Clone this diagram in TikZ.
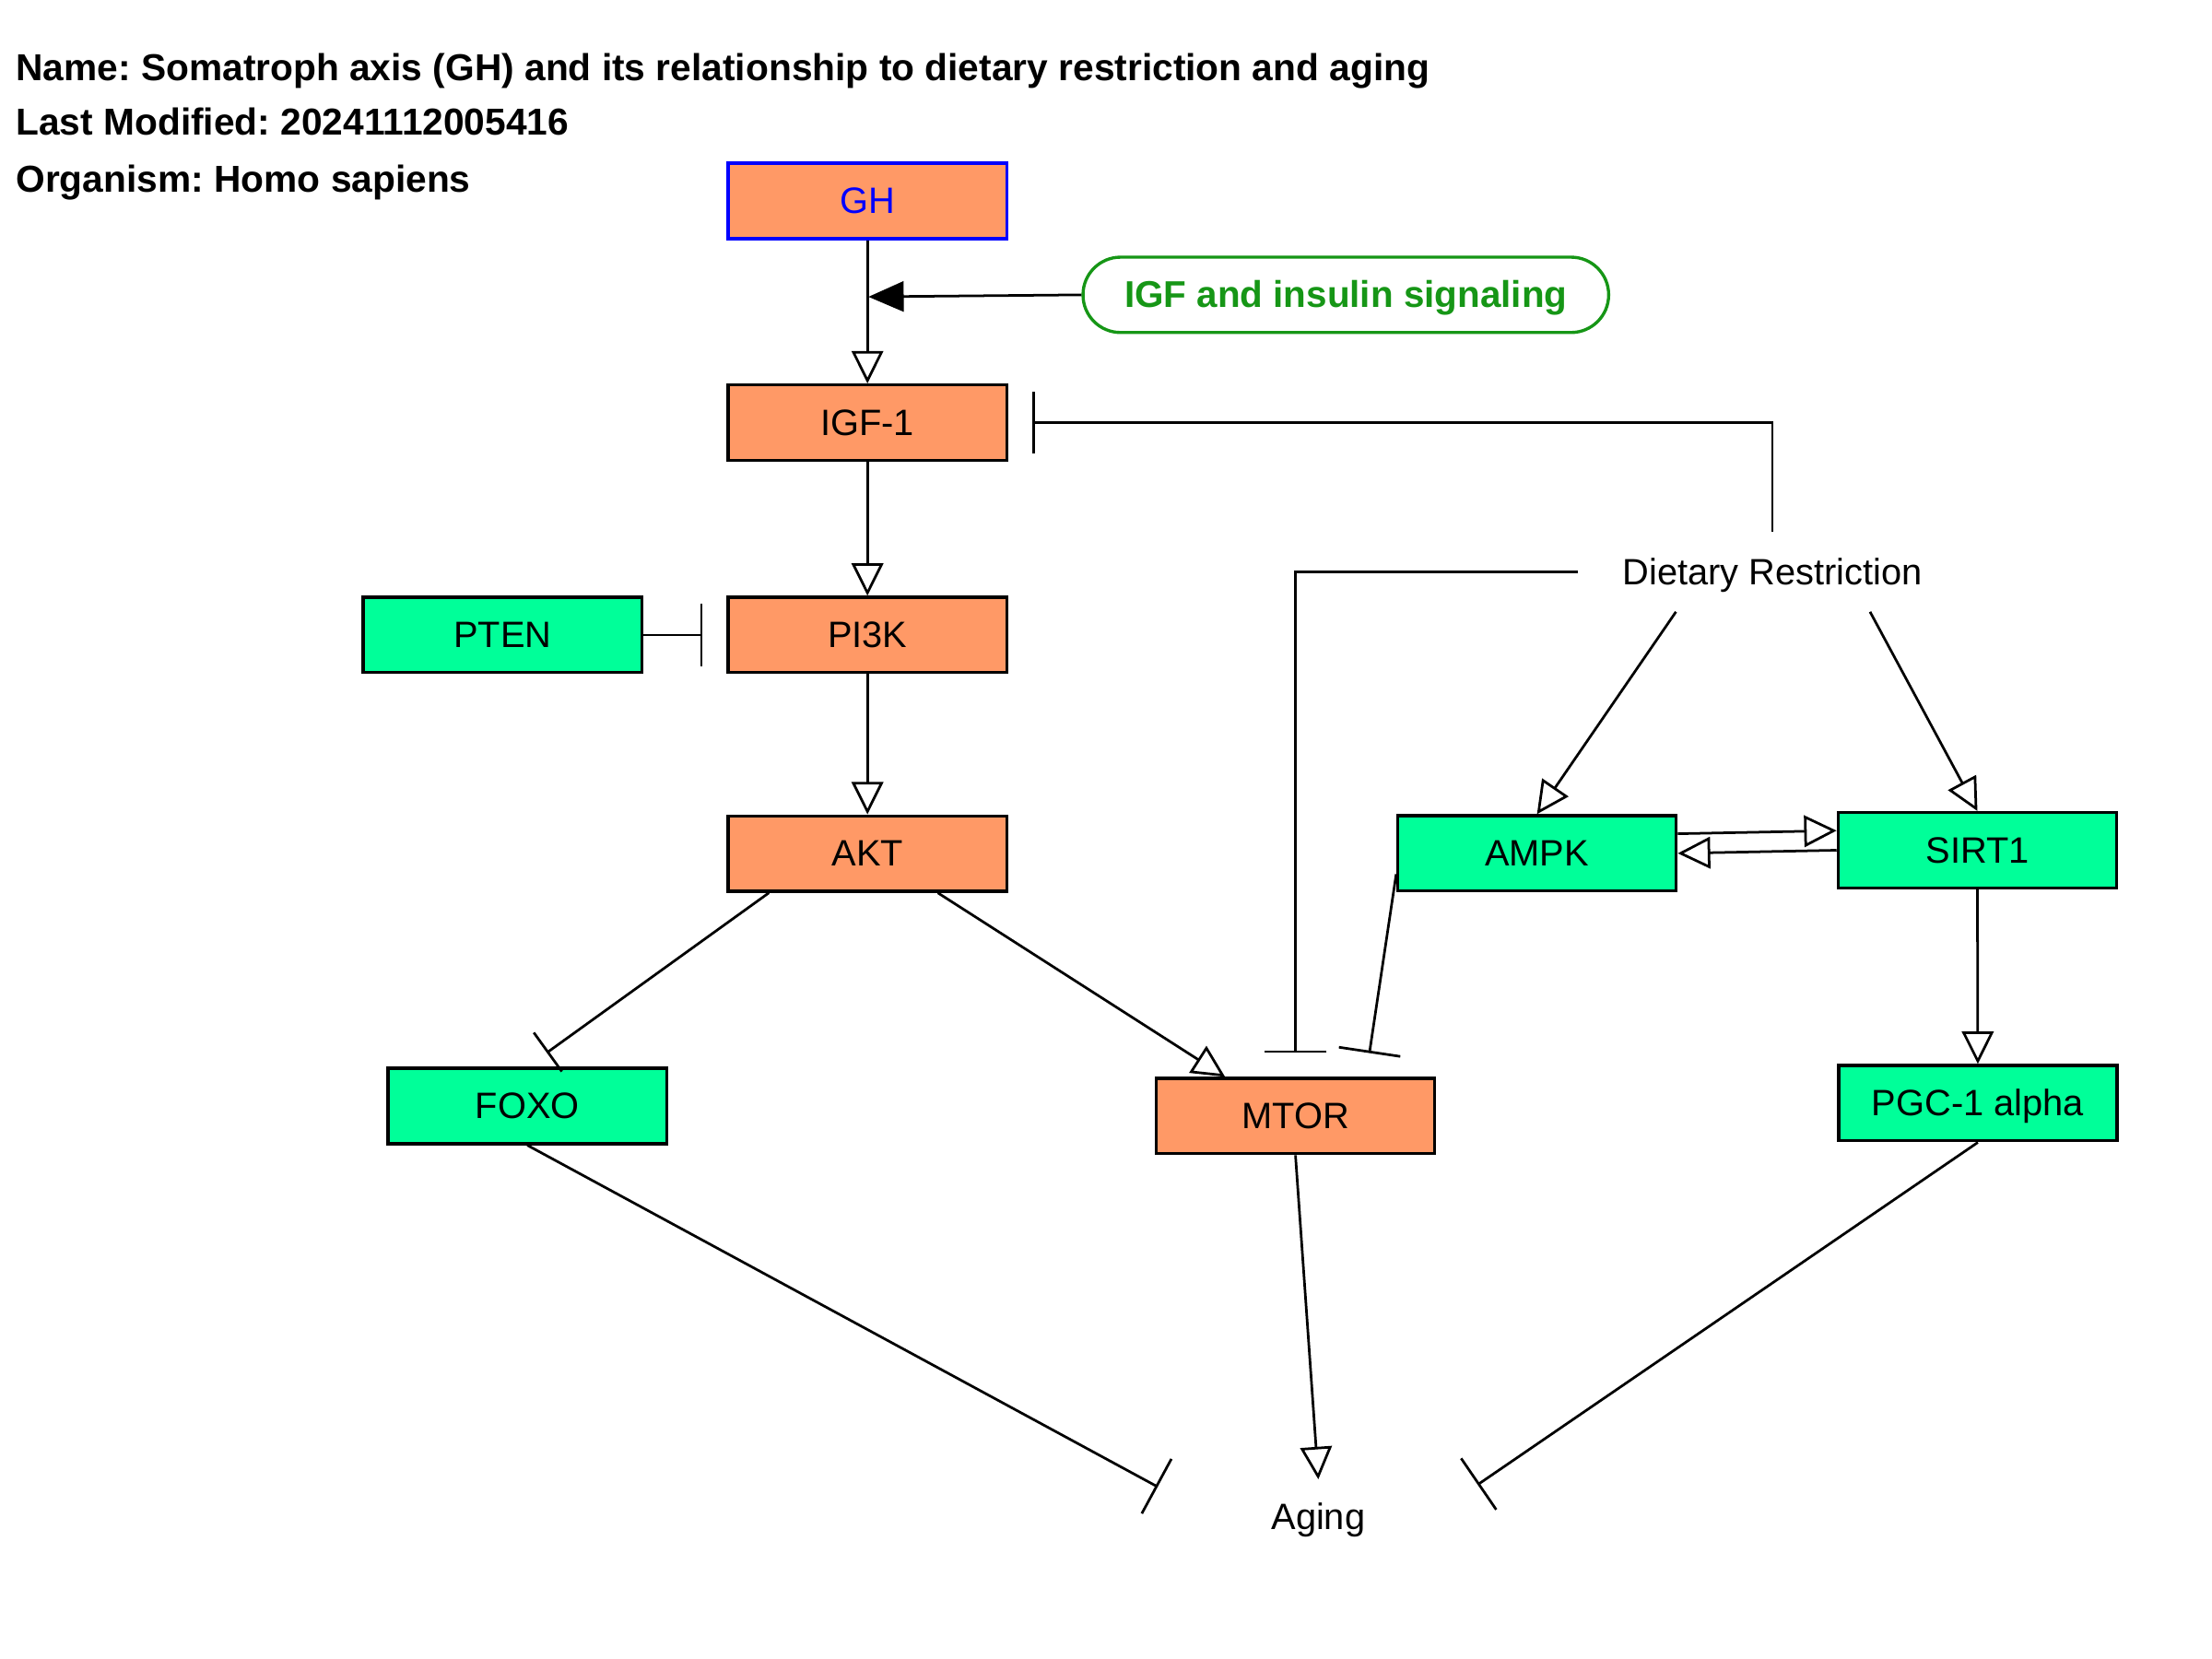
\documentclass[tikz,border=0pt]{standalone}
\usepackage{fontspec}
\setmainfont{Liberation Sans}
\usetikzlibrary{arrows.meta,calc}
\definecolor{orangefill}{RGB}{255,153,102}
\definecolor{greenfill}{RGB}{0,255,153}
\definecolor{pathgreen}{RGB}{22,150,22}
\definecolor{ghblue}{RGB}{0,0,255}
\frenchspacing
\begin{document}
\begin{tikzpicture}[x=0.5pt,y=-0.5pt,
  lbl/.style={font=\fontsize{13pt}{15pt}\selectfont},
  box/.style={lbl, draw=black, line width=1.1pt, minimum width=98.7pt, minimum height=26.7pt,
    inner sep=0pt, text height=8.95pt, text depth=0pt},
  orangebox/.style={box, fill=orangefill},
  greenbox/.style={box, fill=greenfill},
  plainlbl/.style={lbl, inner sep=0pt, text height=8.95pt, text depth=0pt},
  titlelbl/.style={font=\fontsize{13.3pt}{15pt}\selectfont\bfseries, anchor=base west, inner sep=0pt},
  act/.style={draw=black, line width=0.9pt, -{Triangle[open, length=11.5pt, width=11.2pt]}},
  actfill/.style={draw=black, line width=0.9pt, -{Triangle[length=12.5pt, width=10.7pt]}},
  inh/.style={draw=black, line width=0.9pt, -{Bar[width=22pt]}, shorten >=8.5pt},
  inhshort/.style={draw=black, line width=0.9pt, -{Bar[width=17pt]}, shorten >=8.5pt}
]
\useasboundingbox (0,0) rectangle (1568,1176);
\fill[white] (0,0) rectangle (1568,1176);

% title block
\node[titlelbl] (t1) at (11,57) {Name: Somatroph axis (GH) and its relationship to dietary restriction and aging};
\node[titlelbl] (t2) at (11,96) {Last Modified: 20241112005416};
\node[titlelbl] (t3) at (11,136) {Organism: Homo sapiens};

% nodes
\node[orangebox, draw=ghblue, text=ghblue] (gh) at (614.9,142.4) {GH};
\node[draw=pathgreen, text=pathgreen, line width=1.1pt, rounded corners=13.3pt,
  minimum width=186.3pt, minimum height=26.7pt, inner sep=0pt, text height=9.1pt, text depth=0pt,
  font=\fontsize{13.2pt}{15pt}\selectfont\bfseries] (igfsig) at (954,209) {IGF and insulin signaling};
\node[orangebox] (igf1) at (614.9,299.6) {IGF-1};
\node[orangebox] (pi3k) at (614.9,450.1) {PI3K};
\node[greenbox] (pten) at (356.2,450.1) {PTEN};
\node[orangebox] (akt) at (614.9,605.1) {AKT};
\node[greenbox] (foxo) at (373.8,784) {FOXO};
\node[orangebox] (mtor) at (918.3,791.1) {MTOR};
\node[greenbox] (ampk) at (1089.5,604.9) {AMPK};
\node[greenbox] (sirt1) at (1401.7,602.7) {SIRT1};
\node[greenbox] (pgc) at (1402,782) {PGC-1 alpha};
\node[plainlbl, minimum width=137.2pt, minimum height=27.8pt] (dr) at (1256.4,405.5) {Dietary Restriction};
\node[plainlbl, minimum width=98.5pt, minimum height=26.5pt] (aging) at (934.5,1075.5) {Aging};

\coordinate (ghjoin) at (615.6,210.4);

% connectors
\draw[act] (gh.south) -- (igf1.north);
\draw[actfill] (igfsig.west) -- (ghjoin);
\draw[inh] (dr.north) |- (igf1.east);
\draw[act] (igf1.south) -- (pi3k.north);
\draw[inh] (pten.east) -- (pi3k.west);
\draw[act] (pi3k.south) -- (akt.north);
\draw[inhshort] ($(akt.south west)!0.15!(akt.south east)$) -- (foxo.north);
\draw[act] ($(akt.south west)!0.75!(akt.south east)$) -- ($(mtor.north west)!0.25!(mtor.north east)$);
\draw[inh] (dr.west) -| (mtor.north);
\draw[inh] ($(ampk.north west)!0.765!(ampk.south west)$) -- ($(mtor.north west)!0.75!(mtor.north east)$);
\draw[act] ($(dr.south)+(-68.4,0)$) -- (ampk.north);
\draw[act] ($(dr.south)+(69.2,0)$) -- (sirt1.north);
\draw[act] ($(ampk.north east)!0.25!(ampk.south east)$) -- ($(sirt1.north west)!0.25!(sirt1.south west)$);
\draw[act] (sirt1.west) -- (ampk.east);
\draw[act] (sirt1.south) -- (pgc.north);
\draw[inh] (foxo.south) -- ($(aging.north west)!0.25!(aging.south west)$);
\draw[act] (mtor.south) -- (aging.north);
\draw[inh] (pgc.south) -- ($(aging.north east)!0.25!(aging.south east)$);
\end{tikzpicture}
\end{document}
